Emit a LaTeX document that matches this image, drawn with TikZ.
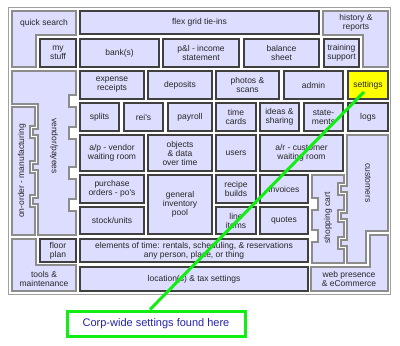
\documentclass[tikz,border=0pt]{standalone}
\usepackage{fontspec}
\setmainfont{Liberation Sans}
\definecolor{cellfill}{HTML}{DDDDFF}
\definecolor{cellline}{HTML}{404040}
\definecolor{zoneline}{HTML}{8C8C8C}
\definecolor{framegray}{HTML}{A0A0A0}
\definecolor{pinyellow}{HTML}{FFFF00}
\definecolor{pingreen}{HTML}{11EE11}
\definecolor{noteblue}{HTML}{2323A8}
% cell box from (x1,y1) to (x2,y2) in pixel units
\newcommand{\cellbox}[7][]{%
  \node[cell,#1,minimum width={(#5-#3)*1pt},minimum height={(#6-#4)*1pt}]
    (#2) at ({(#3+#5)/2},{(#4+#6)/2}) {#7};}

\begin{document}
\begin{tikzpicture}[x=1pt,y=-1pt,
  cell/.style={draw=cellline,fill=cellfill,line width=1.2pt,inner sep=0,align=center,
    font=\fontsize{8.5}{9}\selectfont,text=black!85},
  zone/.style={draw=zoneline,fill=cellfill,line width=1.4pt},
  lbl/.style={inner sep=0,align=center,font=\fontsize{8.5}{9}\selectfont,text=black!85},
  note/.style={draw=pingreen,line width=3pt,fill=white,text=noteblue,
    minimum width=178pt,minimum height=25pt,font=\fontsize{11}{13}\selectfont},
  pinline/.style={pingreen,line width=3pt}]
\useasboundingbox (0,0) rectangle (400,346);
\draw[framegray,line width=1pt,fill=white] (8,7) rectangle (390,294);

% corner and side zones
\draw[zone] (12,11) -- (76,11) -- (76,35) -- (36,35) -- (36,67) -- (12,67) -- cycle;
\node[lbl] (quicksearch) at (44,23) {quick search};
\draw[zone] (323,11) -- (388,11) -- (388,67) -- (363,67) -- (363,35) -- (323,35) -- cycle;
\node[lbl] (history) at (356,23) {history \&\\reports};
\draw[zone] (12,71) -- (76,71) -- (76,95) -- (69,95) -- (69,107) -- (76,107)
  -- (76,127) -- (69,127) -- (69,139) -- (76,139) -- (76,167) -- (69,167) -- (69,179)
  -- (76,179) -- (76,199) -- (69,199) -- (69,211) -- (76,211) -- (76,235) -- (38,235)
  -- (38,204) -- (33,204) -- (33,198) -- (38,198) -- (38,170) -- (33,170) -- (33,164)
  -- (38,164) -- (38,135) -- (33,135) -- (33,129) -- (38,129) -- (38,104) -- (12,104) -- cycle;
\node[lbl,rotate=-90] (vendor) at (54,146) {vendor/payees};
\draw[zone] (12,107) -- (35,107) -- (35,126) -- (30,126) -- (30,138) -- (35,138)
  -- (35,161) -- (30,161) -- (30,173) -- (35,173) -- (35,195) -- (30,195) -- (30,207)
  -- (35,207) -- (35,235) -- (12,235) -- cycle;
\node[lbl,rotate=90] (onorder) at (22,171) {on-order - manufacturing};
\draw[zone] (12,239) -- (36,239) -- (36,265) -- (76,265) -- (76,291) -- (12,291) -- cycle;
\node[lbl] (tools) at (44,279) {tools \&\\maintenance};
\draw[zone] (312,175) -- (344,175) -- (344,183) -- (338,183) -- (338,195) -- (344,195)
  -- (344,210) -- (338,210) -- (338,222) -- (344,222) -- (344,237) -- (338,237)
  -- (338,249) -- (344,249) -- (344,263) -- (312,263) -- (312,242) -- (318,242)
  -- (318,230) -- (312,230) -- (312,210) -- (318,210) -- (318,198) -- (312,198) -- cycle;
\node[lbl,rotate=90] (cart) at (328,218) {shopping cart};
\draw[zone] (347,135) -- (388,135) -- (388,231) -- (366,231) -- (366,263) -- (347,263)
  -- (347,246) -- (341,246) -- (341,240) -- (347,240) -- (347,219) -- (341,219)
  -- (341,213) -- (347,213) -- (347,192) -- (341,192) -- (341,186) -- (347,186) -- cycle;
\node[lbl,rotate=-90] (customers) at (368,183) {customers};
\draw[zone] (311,267) -- (370,267) -- (370,235) -- (388,235) -- (388,291) -- (311,291) -- cycle;
\node[lbl] (web) at (349,279) {web presence\\\& eCommerce};

% grid of cells
\cellbox{flex}{80}{11}{319}{34}{flex grid tie-ins}
\cellbox{mystuff}{40}{39}{76}{67}{my\\stuff}
\cellbox{banks}{80}{39}{159}{67}{bank(s)}
\cellbox{pandl}{163}{39}{239}{67}{p\&l - income\\statement}
\cellbox{balance}{244}{39}{319}{67}{balance\\sheet}
\cellbox{training}{324}{39}{359}{67}{training\\support}
\cellbox{expense}{80}{71}{144}{99}{expense\\receipts}
\cellbox{deposits}{148}{71}{212}{99}{deposits}
\cellbox{photos}{216}{71}{279}{99}{photos \&\\scans}
\cellbox{admin}{284}{71}{343}{99}{admin}
\cellbox[fill=pinyellow]{settings}{348}{71}{388}{99}{settings}
\cellbox{splits}{80}{103}{119}{131}{splits}
\cellbox{reis}{124}{103}{163}{131}{rei\textquotesingle s}
\cellbox{payroll}{168}{103}{212}{131}{payroll}
\cellbox{timecards}{216}{103}{256}{131}{time\\cards}
\cellbox{ideas}{260}{103}{299}{131}{ideas \&\\sharing}
\cellbox{statements}{304}{103}{343}{131}{state-\\ments}
\cellbox{logs}{348}{103}{388}{131}{logs}
\cellbox{apvendor}{80}{135}{144}{171}{a/p - vendor\\waiting room}
\cellbox{objects}{148}{135}{212}{171}{objects\\\& data\\over time}
\cellbox{users}{216}{135}{256}{171}{users}
\cellbox{arcustomer}{260}{135}{343}{171}{a/r - customer\\waiting room}
\cellbox{purchase}{80}{175}{144}{203}{purchase\\orders - po\textquotesingle s}
\cellbox{inventory}{148}{175}{212}{234}{general\\inventory\\pool}
\cellbox{recipe}{216}{175}{256}{203}{recipe\\builds}
\cellbox{invoices}{260}{175}{308}{203}{invoices}
\cellbox{stock}{80}{207}{144}{234}{stock/units}
\cellbox{lineitems}{216}{207}{256}{234}{line\\items}
\cellbox{quotes}{260}{207}{308}{234}{quotes}
\cellbox{floorplan}{40}{239}{76}{262}{floor\\plan}
\cellbox{elements}{80}{239}{308}{262}{elements of time: rentals, scheduling, \& reservations\\any person, place, or thing}
\cellbox{location}{80}{267}{308}{291}{location(s) \& tax settings}

% callout pointing at settings
\coordinate (pin) at (364,92);
\node[note] (corpnote) at (156,323.5) {Corp-wide settings found here};
\draw[pinline] (pin) -- ([xshift=-6pt]corpnote.north);
\end{tikzpicture}
\end{document}
